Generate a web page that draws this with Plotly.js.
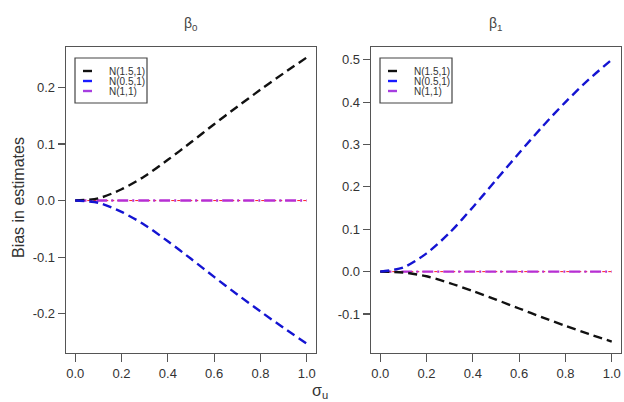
<!DOCTYPE html>
<html>
<head>
<meta charset="utf-8">
<script src="https://cdn.plot.ly/plotly-3.0.1.min.js"></script>
<style>html,body{margin:0;padding:0;background:#fff;}#chart{width:624px;height:402px;}</style>
</head>
<body>
<div id="chart"></div>
<script>
// ---- data ----
var sigmaU = [0, 0.1, 0.2, 0.3, 0.4, 0.5, 0.6, 0.7, 0.8, 0.9, 1.0];
// beta0 panel
var b0_N15 = [0, 0.004, 0.020, 0.043, 0.072, 0.103, 0.135, 0.166, 0.196, 0.225, 0.253];
var b0_N05 = [0, -0.004, -0.020, -0.043, -0.072, -0.103, -0.135, -0.166, -0.196, -0.225, -0.253];
var b0_N11 = [0, 0, 0, 0, 0, 0, 0, 0, 0, 0, 0];
// beta1 panel
var b1_N15 = [0, -0.002, -0.011, -0.027, -0.046, -0.066, -0.087, -0.108, -0.128, -0.147, -0.165];
var b1_N05 = [0, 0.010, 0.043, 0.092, 0.152, 0.216, 0.280, 0.342, 0.400, 0.453, 0.500];
var b1_N11 = [0, 0, 0, 0, 0, 0, 0, 0, 0, 0, 0];
var refZero = [0, 0];
var refX = [0, 1];

var seriesNames = ["N(1.5,1)", "N(0.5,1)", "N(1,1)"];
var xTickVals = [0, 0.2, 0.4, 0.6, 0.8, 1.0];
var xTickText = ["0.0", "0.2", "0.4", "0.6", "0.8", "1.0"];
var y0TickVals = [-0.2, -0.1, 0, 0.1, 0.2];
var y0TickText = ["-0.2", "-0.1", "0.0", "0.1", "0.2"];
var y1TickVals = [-0.1, 0, 0.1, 0.2, 0.3, 0.4, 0.5];
var y1TickText = ["-0.1", "0.0", "0.1", "0.2", "0.3", "0.4", "0.5"];
var panelTitles = ["β<sub>0</sub>", "β<sub>1</sub>"];
var yTitle = "Bias in estimates";
var xTitle = "σ<sub>u</sub>";

// ---- styles ----
var cBlack = "#111111", cBlue = "#1414d2", cPurple = "#b62fd4", cRed = "#ff2020";
var dashLine = "9px,5px";
var dashDot = "11px,4px,2px,4px";
var W = 624, H = 402;
function px(x){ return x / W; }
function py(y){ return 1 - y / H; }

function curve(x, y, color, dash, xa, ya, name){
  return {x: x, y: y, type: "scatter", mode: "lines", name: name, showlegend: false,
    xaxis: xa, yaxis: ya, line: {color: color, width: 2.4, dash: dash, shape: "spline", smoothing: 0.8},
    hoverinfo: "skip"};
}

var traces = [
  {x: refX, y: refZero, type: "scatter", mode: "lines", showlegend: false, xaxis: "x", yaxis: "y",
    line: {color: cRed, width: 1, dash: "dot"}},
  curve(sigmaU, b0_N11, cPurple, dashDot, "x", "y", seriesNames[2]),
  curve(sigmaU, b0_N15, cBlack, dashLine, "x", "y", seriesNames[0]),
  curve(sigmaU, b0_N05, cBlue, dashLine, "x", "y", seriesNames[1]),
  {x: refX, y: refZero, type: "scatter", mode: "lines", showlegend: false, xaxis: "x2", yaxis: "y2",
    line: {color: cRed, width: 1, dash: "dot"}},
  curve(sigmaU, b1_N11, cPurple, dashDot, "x2", "y2", seriesNames[2]),
  curve(sigmaU, b1_N15, cBlack, dashLine, "x2", "y2", seriesNames[0]),
  curve(sigmaU, b1_N05, cBlue, dashLine, "x2", "y2", seriesNames[1])
];

var tickFont = {family: "Liberation Sans, Arial, sans-serif", size: 13, color: "#333"};
function xAxis(domain, anchor){
  return {domain: domain, anchor: anchor, range: [-0.04, 1.04], tickmode: "array",
    tickvals: xTickVals, ticktext: xTickText, ticks: "outside", ticklen: 8, tickwidth: 1.2,
    tickcolor: "#555", showline: true, mirror: true, linecolor: "#555", linewidth: 1.3,
    showgrid: false, zeroline: false, tickfont: tickFont};
}
function yAxis(domain, anchor, range, tv, tt){
  return {domain: domain, anchor: anchor, range: range, tickmode: "array",
    tickvals: tv, ticktext: tt, ticks: "outside", ticklen: 7, tickwidth: 1.2,
    tickcolor: "#555", showline: true, mirror: true, linecolor: "#555", linewidth: 1.3,
    showgrid: false, zeroline: false, tickfont: tickFont};
}

var yDom = [py(353), py(47)];
var layout = {
  width: W, height: H, margin: {l: 0, r: 0, t: 0, b: 0},
  paper_bgcolor: "#fff", plot_bgcolor: "#fff", showlegend: false,
  font: {family: "Liberation Sans, Arial, sans-serif", color: "#333"},
  xaxis: xAxis([px(66), px(316)], "y"),
  yaxis: yAxis(yDom, "x", [-0.2695, 0.2715], y0TickVals, y0TickText),
  xaxis2: xAxis([px(371), px(621)], "y2"),
  yaxis2: yAxis(yDom, "x2", [-0.192, 0.530], y1TickVals, y1TickText),
  annotations: [],
  shapes: []
};

// titles
layout.annotations.push({text: panelTitles[0], xref: "paper", yref: "paper", x: px(191), y: py(24),
  showarrow: false, font: {size: 14, color: "#444"}, xanchor: "center", yanchor: "middle"});
layout.annotations.push({text: panelTitles[1], xref: "paper", yref: "paper", x: px(496), y: py(24),
  showarrow: false, font: {size: 14, color: "#444"}, xanchor: "center", yanchor: "middle"});
layout.annotations.push({text: yTitle, xref: "paper", yref: "paper", x: px(18), y: py(198),
  showarrow: false, textangle: -90, font: {size: 16, color: "#333"}, xanchor: "center", yanchor: "middle"});
layout.annotations.push({text: xTitle, xref: "paper", yref: "paper", x: px(320), y: py(391),
  showarrow: false, font: {size: 16, color: "#333"}, xanchor: "center", yanchor: "middle"});

// legends (drawn as boxes + solid samples + text)
var legColors = [cBlack, "#1a1aff", "#a63ee0"];
function addLegend(x0){
  layout.shapes.push({type: "rect", xref: "paper", yref: "paper",
    x0: px(x0), x1: px(x0 + 72), y0: py(103), y1: py(58),
    line: {color: "#444", width: 1.2}, fillcolor: "rgba(255,255,255,0)"});
  var ys = [71, 81, 91];
  for (var i = 0; i < 3; i++){
    layout.shapes.push({type: "line", xref: "paper", yref: "paper",
      x0: px(x0 + 8), x1: px(x0 + 17), y0: py(ys[i]), y1: py(ys[i]),
      line: {color: legColors[i], width: 2.4}});
    layout.annotations.push({text: seriesNames[i], xref: "paper", yref: "paper",
      x: px(x0 + 32), y: py(ys[i]), showarrow: false, xanchor: "left", yanchor: "middle",
      font: {size: 10, color: "#333"}});
  }
}
addLegend(75);
addLegend(380);

Plotly.newPlot("chart", traces, layout, {displayModeBar: false, staticPlot: true});
</script>
</body>
</html>
